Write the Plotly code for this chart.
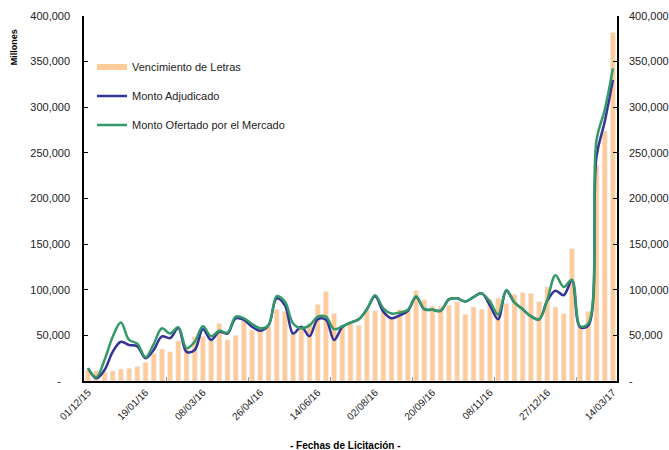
import plotly.graph_objects as go

# Colores
BAR_COLOR = "#FFCC99"
BLUE = "#333399"
GREEN = "#339966"
FONT = "Liberation Sans, Arial, sans-serif"

# Datos (millones), una licitación por categoría
vencimiento = [12, 11, 10, 11, 13, 14, 15.7, 20.5, 30, 35,
               32, 44, 37, 48.6, 48.6, 44, 63, 45, 50, 66,
               56, 54, 60, 78.6, 76, 52, 59, 63, 84, 98,
               74, 61, 64, 61, 78, 77, 76, 69, 78.6, 78,
               99, 89, 82, 82, 83, 87, 73, 81, 78.6, 89.5,
               91, 85, 95, 97, 96, 87, 103, 81, 74, 145,
               60, 76, 237, 274, 382]

adjudicado = [14, 3, 12, 32, 43, 39.5, 38, 25, 34, 49,
              47, 58, 32, 34, 56.7, 45, 54, 52, 68.7, 67,
              59.5, 55, 61, 90.6, 83, 52, 59.5, 49, 67.6, 67,
              45, 59, 64, 67.6, 78.6, 93, 76, 68.7, 72, 77,
              92, 78.6, 78, 77, 89.5, 90.6, 87, 92, 96, 83,
              67.6, 99, 86, 78.6, 71, 67.6, 88, 99, 94, 110,
              59, 61, 246, 284, 330]

ofertado = [14, 4, 23, 48.6, 64, 45, 41, 26, 40.5, 57.8,
            52, 59, 36, 43, 60, 49, 55, 53, 70.5, 68.7,
            62.5, 57.8, 61, 93, 87, 63, 57.8, 61, 70.5, 70.5,
            56.7, 60, 64, 67.6, 78.6, 94, 79.7, 74, 75, 78,
            93, 79, 78, 77, 89.5, 90.6, 87, 92, 96, 87,
            73, 99.7, 86, 78.6, 71, 67.6, 89, 116, 103, 111,
            60, 63, 264, 297, 342.6]

tick_index = [0, 7, 14, 21, 28, 35, 42, 49, 56, 64]
tick_labels = ["01/12/15", "19/01/16", "08/03/16", "26/04/16", "14/06/16",
               "02/08/16", "20/09/16", "08/11/16", "27/12/16", "14/03/17"]

y_ticks = [0, 50000, 100000, 150000, 200000, 250000, 300000, 350000, 400000]

x = list(range(len(vencimiento)))
to_units = lambda s: [v * 1000 for v in s]

fig = go.Figure()
fig.add_trace(go.Bar(
    x=x, y=to_units(vencimiento), marker_color=BAR_COLOR, width=0.6,
    name="Vencimiento de Letras", showlegend=False, legendgroup="a"
))
# legend swatch as a flat wide bar, like the original
fig.add_trace(go.Scatter(
    x=[None], y=[None], mode="lines", line=dict(color=BAR_COLOR, width=6),
    name="Vencimiento de Letras", legendgroup="a"
))
fig.add_trace(go.Scatter(
    x=x, y=to_units(adjudicado), mode="lines", name="Monto Adjudicado",
    line=dict(color=BLUE, width=2.5, shape="spline", smoothing=1.0), legendgroup="b"
))
fig.add_trace(go.Scatter(
    x=x, y=to_units(ofertado), mode="lines", name="Monto Ofertado por el Mercado",
    line=dict(color=GREEN, width=2.5, shape="spline", smoothing=1.0), legendgroup="c"
))
# dummy trace so the right axis is drawn
fig.add_trace(go.Scatter(x=[None], y=[None], yaxis="y2", showlegend=False))

left_text = [f"{v:,}" for v in y_ticks]
left_text[0] = "-\u00a0\u00a0\u00a0"
right_text = [f"{v:,}" for v in y_ticks]
right_text[0] = "-"

yaxis_common = dict(
    range=[0, 400000], tickmode="array", tickvals=y_ticks,
    showline=True, linecolor="black", linewidth=1.5,
    ticks="inside", ticklen=4, tickcolor="black",
    showgrid=False, zeroline=False,
    tickfont=dict(size=11, color="#222"), automargin=False,
)

fig.update_layout(
    width=669, height=450,
    plot_bgcolor="white", paper_bgcolor="white",
    font=dict(family=FONT, size=11, color="#222"),
    margin=dict(l=84, r=52, t=16, b=69),
    bargap=0.4,
    xaxis=dict(
        range=[-0.5, len(vencimiento) - 0.5],
        tickmode="array", tickvals=tick_index, ticktext=tick_labels,
        tickangle=-45, ticks="", tickfont=dict(size=10, color="#222"),
        showline=True, linecolor="black", linewidth=1.5,
        showgrid=False, zeroline=False, automargin=False,
        minor=dict(tickmode="array", tickvals=[9.5, 19.5, 29.5, 39.5, 49.5, 59.5],
                   ticks="inside", ticklen=4, tickcolor="#999", showgrid=False),
    ),
    yaxis=dict(ticktext=left_text, ticklabelstandoff=10, **yaxis_common),
    yaxis2=dict(ticktext=right_text, overlaying="y", side="right",
                ticklabelstandoff=8, **yaxis_common),
    legend=dict(
        x=0.015, y=0.9, xanchor="left", yanchor="top",
        bgcolor="rgba(0,0,0,0)", font=dict(size=11, color="#222"),
        tracegroupgap=10,
    ),
    annotations=[
        dict(text="<b>Millones</b>", textangle=-90, xref="paper", yref="paper",
             x=-0.131, y=0.915, xanchor="center", yanchor="middle",
             showarrow=False, font=dict(size=9, color="black")),
        dict(text="<b>- Fechas de Licitación -</b>", xref="paper", yref="paper",
             x=0.49, y=-0.178, xanchor="center", yanchor="middle",
             showarrow=False, font=dict(size=10, color="black")),
    ],
)

# drop the page's default body margin so the figure sits at 0,0
fig.write_html("out.html", config={"displayModeBar": False},
               post_script="document.body.style.margin='0';")
